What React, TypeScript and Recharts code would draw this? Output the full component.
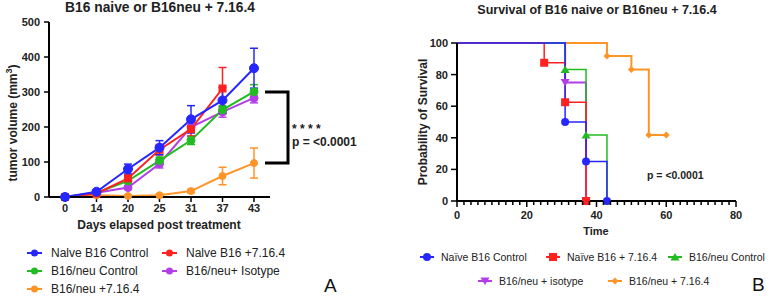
import React from 'react';
import { LineChart, Line, XAxis, YAxis, ErrorBar } from 'recharts';

// ---------- Left chart: tumor volume ----------
const days = ['0', '14', '20', '25', '31', '37', '43'];
const naiveControl = [0, 15, 80, 141, 222, 276, 368];
const naiveControlErr = [0, 4, 14, 20, 39, 37, 57];
const naive716 = [0, 10, 53, 135, 194, 310, null];
const naive716Err = [0, 3, 10, 15, 20, 60, null];
const neuControl = [0, 12, 46, 104, 162, 249, 301];
const neuControlErr = [0, 3, 5, 10, 12, 12, 20];
const neuIsotype = [0, 12, 27, 95, 200, 243, 283];
const neuIsotypeErr = [0, 3, 5, 12, 15, 15, 14];
const neu716 = [0, 5, 3, 5, 17, 60, 97];
const neu716Err = [0, 2, 2, 3, 5, 25, 43];
const volumeTicks = [0, 100, 200, 300, 400, 500];

// ---------- Right chart: survival ----------
const survNaiveControlT = [0, 31, 37, 43];
const survNaiveControlS = [100, 50, 25, 0];
const survNaive716T = [0, 25, 31, 37];
const survNaive716S = [100, 87.5, 62.5, 0];
const survNeuControlT = [0, 31, 37, 43];
const survNeuControlS = [100, 83.3, 41.7, 0];
const survNeuIsotypeT = [0, 31, 37];
const survNeuIsotypeS = [100, 75, 0];
const survNeu716T = [0, 43, 50, 55, 60];
const survNeu716S = [100, 91.7, 83.3, 41.7, 41.7];
const survYTicks = [0, 20, 40, 60, 80, 100];
const survXTicks = Array.from({ length: 41 }, (_, i) => i * 2);

const BLUE = '#2626ff';
const RED = '#ff2020';
const GREEN = '#22bb22';
const PURPLE = '#b23ee6';
const ORANGE = '#ff9428';

const FONT = '"Liberation Sans", Arial, sans-serif';

const volumeData = days.map((d, i) => ({
  day: d,
  nc: naiveControl[i], ncE: naiveControlErr[i],
  n7: naive716[i], n7E: naive716Err[i],
  uc: neuControl[i], ucE: neuControlErr[i],
  ui: neuIsotype[i], uiE: neuIsotypeErr[i],
  u7: neu716[i], u7E: neu716Err[i],
}));

const toSurv = (t: number[], s: number[]) => t.map((v, i) => ({ t: v, s: s[i] }));

const circleDot = (color: string, r: number) => (p: any) => {
  if (p.cx == null || p.cy == null || p.value == null) return <g key={p.key ?? p.index} />;
  return <circle key={p.key ?? p.index} cx={p.cx} cy={p.cy} r={r} fill={color} stroke={color} />;
};
const squareDot = (color: string, s: number) => (p: any) => {
  if (p.cx == null || p.cy == null || p.value == null) return <g key={p.key ?? p.index} />;
  return <rect key={p.key ?? p.index} x={p.cx - s / 2} y={p.cy - s / 2} width={s} height={s} fill={color} />;
};

type Shape = 'circle' | 'square' | 'tri' | 'triDown' | 'diamond';
const drawShape = (shape: Shape, cx: number, cy: number, color: string, k?: any) => {
  switch (shape) {
    case 'circle':
      return <circle key={k} cx={cx} cy={cy} r={4} fill={color} />;
    case 'square':
      return <rect key={k} x={cx - 4} y={cy - 4} width={8} height={8} fill={color} />;
    case 'tri':
      return <polygon key={k} points={`${cx},${cy - 4} ${cx - 4.5},${cy + 3.5} ${cx + 4.5},${cy + 3.5}`} fill={color} />;
    case 'triDown':
      return <polygon key={k} points={`${cx},${cy + 4} ${cx - 4.5},${cy - 3.5} ${cx + 4.5},${cy - 3.5}`} fill={color} />;
    case 'diamond':
      return <polygon key={k} points={`${cx},${cy - 3.5} ${cx + 3.5},${cy} ${cx},${cy + 3.5} ${cx - 3.5},${cy}`} fill={color} />;
  }
};
const survDot = (shape: Shape, color: string) => (p: any) => {
  const k = p.key ?? p.index;
  if (p.index === 0 || p.cx == null) return <g key={k} />;
  return drawShape(shape, p.cx, p.cy, color, k);
};

const SurvXTick = (props: any) => {
  const { x, y, payload } = props;
  const major = payload.value % 20 === 0;
  return (
    <g>
      <line x1={x} x2={x} y1={y} y2={y + (major ? 6 : 4)} stroke="#000" strokeWidth={1.5} />
      {major && (
        <text x={x} y={y + 18} textAnchor="middle" fontSize={11} fontWeight="bold" fill="#222" fontFamily={FONT}>
          {payload.value}
        </text>
      )}
    </g>
  );
};

const legendLeft = [
  { label: 'Nalve B16 Control', color: BLUE, x: 27, y: 253 },
  { label: 'Nalve B16 +7.16.4', color: RED, x: 162, y: 253 },
  { label: 'B16/neu Control', color: GREEN, x: 27, y: 271 },
  { label: 'B16/neu+ Isotype', color: PURPLE, x: 162, y: 271 },
  { label: 'B16/neu +7.16.4', color: ORANGE, x: 27, y: 289 },
];
const legendRight: { label: string; color: string; x: number; y: number; shape: Shape }[] = [
  { label: 'Naïve B16 Control', color: BLUE, x: 420, y: 257, shape: 'circle' },
  { label: 'Naïve B16 + 7.16.4', color: RED, x: 546, y: 257, shape: 'square' },
  { label: 'B16/neu Control', color: GREEN, x: 668, y: 257, shape: 'tri' },
  { label: 'B16/neu + isotype', color: PURPLE, x: 478, y: 281, shape: 'triDown' },
  { label: 'B16/neu + 7.16.4', color: ORANGE, x: 608, y: 281, shape: 'diamond' },
];

const tickStyle = { fontSize: 11, fontWeight: 'bold' as const, fill: '#222', fontFamily: FONT };

export default function App() {
  return (
    <div style={{ position: 'absolute', left: 0, top: 0, width: 768, height: 296, background: '#fff', fontFamily: FONT, overflow: 'hidden' }}>
      <div style={{ position: 'absolute', left: 0, top: 0 }}>
        <LineChart width={300} height={240} data={volumeData} margin={{ top: 22, right: 30, bottom: 13, left: 0 }}>
          <XAxis dataKey="day" padding={{ left: 16, right: 16 }} height={30} tick={tickStyle}
            axisLine={{ stroke: '#000', strokeWidth: 2 }} tickLine={{ stroke: '#000', strokeWidth: 1.5 }} tickSize={5} tickMargin={2} interval={0} />
          <YAxis domain={[0, 500]} ticks={volumeTicks} width={49} tick={tickStyle}
            axisLine={{ stroke: '#000', strokeWidth: 2 }} tickLine={{ stroke: '#000', strokeWidth: 1.5 }} tickSize={5} tickMargin={4} />
          <Line dataKey="u7" stroke={ORANGE} strokeWidth={2} dot={circleDot(ORANGE, 3.5)} isAnimationActive={false}>
            <ErrorBar dataKey="u7E" stroke={ORANGE} width={4} strokeWidth={1.5} direction="y" />
          </Line>
          <Line dataKey="ui" stroke={PURPLE} strokeWidth={2} dot={circleDot(PURPLE, 4)} isAnimationActive={false}>
            <ErrorBar dataKey="uiE" stroke={PURPLE} width={4} strokeWidth={1.5} direction="y" />
          </Line>
          <Line dataKey="uc" stroke={GREEN} strokeWidth={2} dot={circleDot(GREEN, 4)} isAnimationActive={false}>
            <ErrorBar dataKey="ucE" stroke={GREEN} width={4} strokeWidth={1.5} direction="y" />
          </Line>
          <Line dataKey="n7" stroke={RED} strokeWidth={2} dot={squareDot(RED, 8)} isAnimationActive={false}>
            <ErrorBar dataKey="n7E" stroke={RED} width={4} strokeWidth={1.5} direction="y" />
          </Line>
          <Line dataKey="nc" stroke={BLUE} strokeWidth={2} dot={circleDot(BLUE, 4.5)} isAnimationActive={false}>
            <ErrorBar dataKey="ncE" stroke={BLUE} width={4} strokeWidth={1.5} direction="y" />
          </Line>
        </LineChart>
      </div>

      <div style={{ position: 'absolute', left: 400, top: 0 }}>
        <LineChart width={360} height={240} margin={{ top: 43, right: 24, bottom: 19, left: 0 }}>
          <XAxis type="number" dataKey="t" domain={[0, 80]} ticks={survXTicks} interval={0} height={20}
            axisLine={{ stroke: '#000', strokeWidth: 2 }} tickLine={false} tickSize={0} tickMargin={0} tick={<SurvXTick />} allowDuplicatedCategory={false} />
          <YAxis type="number" dataKey="s" domain={[0, 100]} ticks={survYTicks} width={57} tick={tickStyle}
            axisLine={{ stroke: '#000', strokeWidth: 2 }} tickLine={{ stroke: '#000', strokeWidth: 1.5 }} tickSize={6} tickMargin={3} />
          <Line data={toSurv(survNeu716T, survNeu716S)} dataKey="s" type="stepAfter" stroke={ORANGE} strokeWidth={2} dot={survDot('diamond', ORANGE)} isAnimationActive={false} />
          <Line data={toSurv(survNeuIsotypeT, survNeuIsotypeS)} dataKey="s" type="stepAfter" stroke={PURPLE} strokeWidth={2} dot={survDot('triDown', PURPLE)} isAnimationActive={false} />
          <Line data={toSurv(survNeuControlT, survNeuControlS)} dataKey="s" type="stepAfter" stroke={GREEN} strokeWidth={1.5} dot={survDot('tri', GREEN)} isAnimationActive={false} />
          <Line data={toSurv(survNaive716T, survNaive716S)} dataKey="s" type="stepAfter" stroke={RED} strokeWidth={1.5} dot={survDot('square', RED)} isAnimationActive={false} />
          <Line data={toSurv(survNaiveControlT, survNaiveControlS)} dataKey="s" type="stepAfter" stroke={BLUE} strokeWidth={1.5} dot={survDot('circle', BLUE)} isAnimationActive={false} />
        </LineChart>
      </div>

      <svg width={768} height={296} style={{ position: 'absolute', left: 0, top: 0, pointerEvents: 'none' }} fontFamily={FONT}>
        <text x={160} y={12} textAnchor="middle" fontSize={13.8} fontWeight="bold" fill="#222">B16 naive or B16neu + 7.16.4</text>
        <text transform="translate(17,123) rotate(-90)" textAnchor="middle" fontSize={12} fontWeight="bold" fill="#222">
          tumor volume (mm<tspan dy={-5} fontSize={9}>3</tspan><tspan dy={5}>)</tspan>
        </text>
        <text x={159} y={229} textAnchor="middle" fontSize={12} fontWeight="bold" fill="#222">Days elapsed post treatment</text>
        <path d="M265 92 H288 V163 H265" fill="none" stroke="#000" strokeWidth={3} />
        <text x={292} y={133} fontSize={12} fontWeight="bold" fill="#222">* * * *</text>
        <text x={292} y={146} fontSize={12} fontWeight="bold" fill="#222">p = &lt;0.0001</text>
        <text x={324} y={292} fontSize={19} fill="#111">A</text>
        {legendLeft.map((l) => (
          <g key={l.label}>
            <line x1={l.x} x2={l.x + 15} y1={l.y} y2={l.y} stroke={l.color} strokeWidth={2} />
            <circle cx={l.x + 7.5} cy={l.y} r={3.5} fill={l.color} />
            <text x={l.x + 24} y={l.y + 4} fontSize={12} fill="#222">{l.label}</text>
          </g>
        ))}

        <text x={597} y={14} textAnchor="middle" fontSize={12.5} fontWeight="bold" fill="#222">Survival of B16 naive or B16neu + 7.16.4</text>
        <text transform="translate(427,122) rotate(-90)" textAnchor="middle" fontSize={12} fontWeight="bold" fill="#222">Probability of Survival</text>
        <text x={596} y={235} textAnchor="middle" fontSize={11} fontWeight="bold" fill="#222">Time</text>
        <text x={647} y={179} fontSize={10.5} fontWeight="bold" fill="#222">p = &lt;0.0001</text>
        <text x={752} y={291} fontSize={19} fill="#111">B</text>
        {legendRight.map((l) => (
          <g key={l.label}>
            <line x1={l.x} x2={l.x + 14} y1={l.y} y2={l.y} stroke={l.color} strokeWidth={2} />
            {drawShape(l.shape, l.x + 7, l.y, l.color)}
            <text x={l.x + 21} y={l.y + 4} fontSize={10.5} fill="#222">{l.label}</text>
          </g>
        ))}
      </svg>
    </div>
  );
}
